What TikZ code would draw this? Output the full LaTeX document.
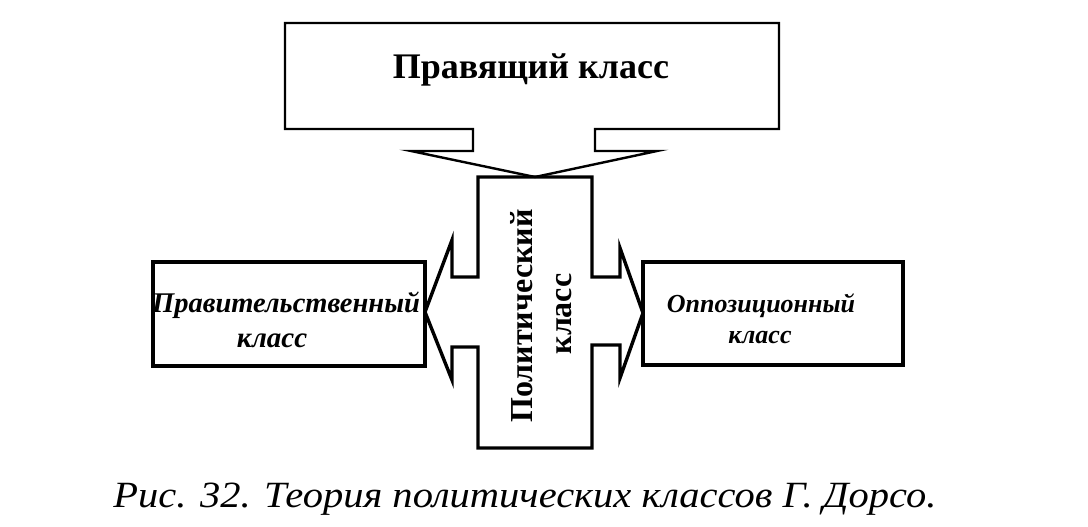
\documentclass[tikz,border=0pt]{standalone}
\usepackage{fontspec}
\usepackage{graphicx}
\setmainfont{Liberation Serif}
\tikzset{
  outline/.style={draw=black, line width=3.4pt, line join=miter},
  topline/.style={draw=black, line width=2.4pt, line join=miter},
  sidebox/.style={draw=black, line width=3.4pt, inner sep=0pt},
  lbl/.style={anchor=base, inner sep=0pt, text=black},
}
\begin{document}
\begin{tikzpicture}[x=1pt,y=-1pt]
\useasboundingbox (0,0) rectangle (1088,527);
\fill[white] (0,0) rectangle (1088,527);
% top box with downward arrow
\draw[topline] (473,129) -- (285,129) -- (285,23) -- (779,23) -- (779,129) -- (595,129)
  -- (595,151) -- (657,151) -- (535,177) -- (411,151) -- (473,151) -- cycle;
% central cross with two side arrows
\draw[outline] (478,177) -- (592,177) -- (592,277) -- (620,277) -- (620,248) -- (643,313)
  -- (620,378) -- (620,345) -- (592,345) -- (592,448) -- (478,448) -- (478,347)
  -- (452,347) -- (452,380) -- (425,312) -- (452,240) -- (452,277) -- (478,277) -- cycle;
% side boxes
\node[sidebox, minimum width=272pt, minimum height=104pt] (gov) at (289,314) {};
\node[sidebox, minimum width=260pt, minimum height=103pt] (opp) at (773,313.5) {};
% texts
\node[lbl, font=\fontsize{36}{40}\selectfont\bfseries] (ruling) at (531,79) {Правящий класс};
\node[lbl, rotate=90, font=\fontsize{32}{38}\selectfont\bfseries] (pol1) at (532,316) {Политический};
\node[lbl, rotate=90, font=\fontsize{32}{38}\selectfont\bfseries] (pol2) at (571,314) {класс};
\node[lbl, font=\fontsize{28.5}{34}\selectfont\bfseries\itshape] (gov1) at (286,312) {Правительственный};
\node[lbl, font=\fontsize{29}{34}\selectfont\bfseries\itshape] (gov2) at (272,347) {класс};
\node[lbl, font=\fontsize{26}{30}\selectfont\bfseries\itshape] (opp1) at (761,312) {Оппозиционный};
\node[lbl, font=\fontsize{26}{30}\selectfont\bfseries\itshape] (opp2) at (760,343) {класс};
\node[lbl, font=\fontsize{37}{42}\selectfont\itshape] (cap) at (525,507)
  {\resizebox{823pt}{\height}{Рис. 32. Теория политических классов Г. Дорсо.}};
\end{tikzpicture}
\end{document}
